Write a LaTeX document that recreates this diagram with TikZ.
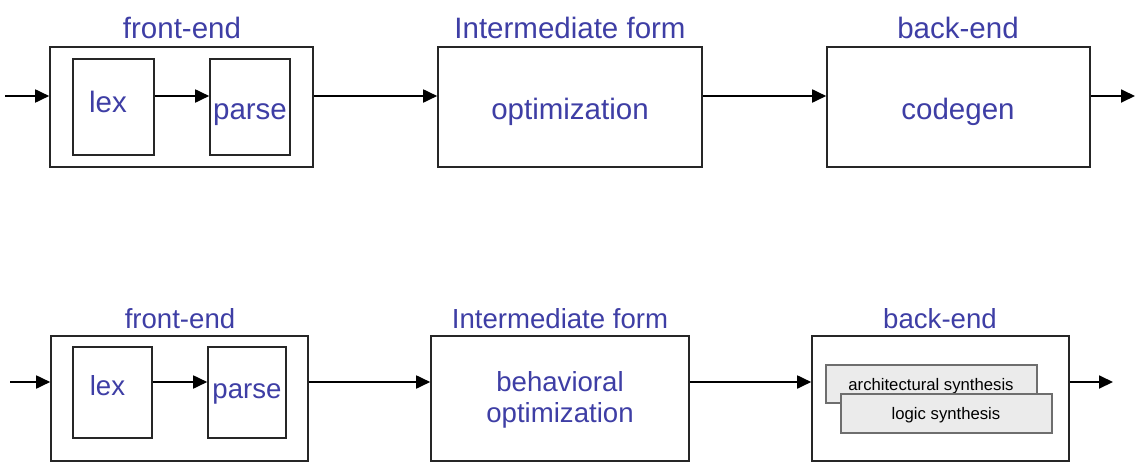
\documentclass[tikz,border=0pt]{standalone}
\usepackage{fontspec}
\setmainfont{Liberation Sans}
\usetikzlibrary{arrows.meta}
\definecolor{tblue}{RGB}{62,62,165}
\definecolor{subfill}{RGB}{235,235,235}
\definecolor{subdraw}{RGB}{110,110,110}
\tikzset{
  box/.style={draw=black!85, line width=1.6pt, inner sep=0pt, fill=white},
  subbox/.style={draw=subdraw, line width=1.2pt, fill=subfill, inner sep=0pt},
  big/.style={text=tblue, inner sep=0pt, anchor=base, font=\fontsize{29.5}{32}\selectfont},
  bigb/.style={text=tblue, inner sep=0pt, anchor=base, font=\fontsize{27.6}{30}\selectfont},
  small/.style={text=black, inner sep=0pt, anchor=base, font=\fontsize{16.7}{19}\selectfont},
  conn/.style={line width=1.8pt, -{Triangle[length=14pt,width=13pt]}},
}
\begin{document}
\begin{tikzpicture}[x=1pt,y=-1pt]
\useasboundingbox (0,0) rectangle (1147,474);
% ---------- top row ----------
\node[box, minimum width=263pt, minimum height=120pt] (fe1) at (181.5,107) {};
\node[box, minimum width=81pt, minimum height=96pt] (lex1) at (113.5,107) {};
\node[box, minimum width=80pt, minimum height=96pt] (parse1) at (250,107) {};
\node[box, minimum width=264pt, minimum height=120pt] (opt1) at (570,107) {};
\node[box, minimum width=263pt, minimum height=120pt] (cg1) at (958.5,107) {};
\coordinate (in1) at (5,96);
\coordinate (out1) at (1135,96);
\node[big] (t1a) at (182,38) {front-end};
\node[big] (t1b) at (570,38) {Intermediate form};
\node[big] (t1c) at (958,38) {back-end};
\node[big] (lx1) at (108,112) {lex};
\node[big] (ps1) at (250,119) {parse};
\node[big] (op1) at (570,119) {optimization};
\node[big] (cd1) at (958,119) {codegen};
\draw[conn] (in1) -- (in1 -| fe1.west);
\draw[conn] (in1 -| lex1.east) -- (in1 -| parse1.west);
\draw[conn] (in1 -| fe1.east) -- (in1 -| opt1.west);
\draw[conn] (in1 -| opt1.east) -- (in1 -| cg1.west);
\draw[conn] (in1 -| cg1.east) -- (out1);
% ---------- bottom row ----------
\node[box, minimum width=257pt, minimum height=125pt] (fe2) at (179.5,398.5) {};
\node[box, minimum width=79pt, minimum height=91pt] (lex2) at (112.5,392.5) {};
\node[box, minimum width=78pt, minimum height=91pt] (parse2) at (247,392.5) {};
\node[box, minimum width=258pt, minimum height=125pt] (opt2) at (560,398.5) {};
\node[box, minimum width=257pt, minimum height=125pt] (be2) at (940.5,398.5) {};
\node[subbox, minimum width=211pt, minimum height=38pt] (arch) at (931.5,384) {};
\node[small] (archt) at (931,390) {architectural synthesis};
\node[subbox, minimum width=211pt, minimum height=39pt] (logic) at (946.5,413.5) {};
\node[small] (logict) at (946,419) {logic synthesis};
\coordinate (in2) at (10,382);
\coordinate (out2) at (1113,382);
\node[bigb] (t2a) at (180,328) {front-end};
\node[bigb] (t2b) at (560,328) {Intermediate form};
\node[bigb] (t2c) at (940,328) {back-end};
\node[bigb] (lx2) at (107.5,395) {lex};
\node[bigb] (ps2) at (247,398) {parse};
\node[bigb] (bh2) at (560,391) {behavioral};
\node[bigb] (op2) at (560,422) {optimization};
\draw[conn] (in2) -- (in2 -| fe2.west);
\draw[conn] (in2 -| lex2.east) -- (in2 -| parse2.west);
\draw[conn] (in2 -| fe2.east) -- (in2 -| opt2.west);
\draw[conn] (in2 -| opt2.east) -- (in2 -| be2.west);
\draw[conn] (in2 -| be2.east) -- (out2);
\end{tikzpicture}
\end{document}
